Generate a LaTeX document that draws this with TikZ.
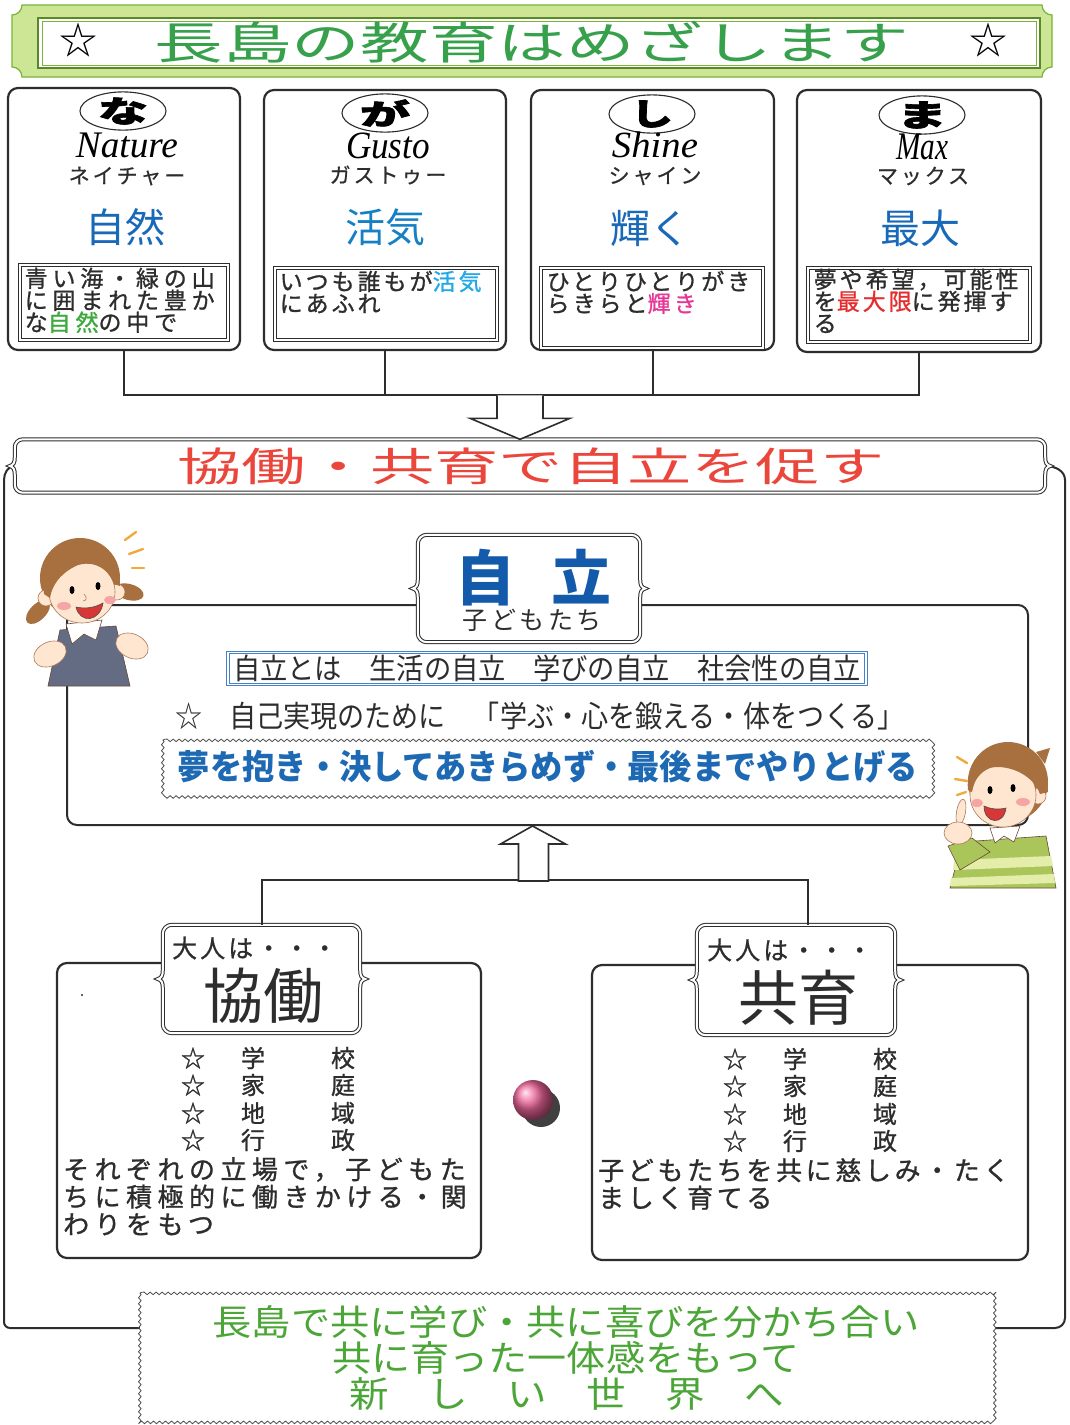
\documentclass[tikz,border=0pt]{standalone}
\usepackage{fontspec}
\usepackage{graphicx}
\usetikzlibrary{shapes.geometric,decorations.pathmorphing,calc,shadings}
\setmainfont{Noto Sans CJK JP}
\newfontfamily\latinit{Liberation Serif}
\newcommand\fsz[1]{\fontsize{#1}{#1}\selectfont}
\newcommand\fitbox[3]{\resizebox*{#1pt}{#2pt}{#3}}

\definecolor{titlegreen}{RGB}{55,160,75}
\definecolor{frameouter}{RGB}{205,230,150}
\definecolor{frameline}{RGB}{120,180,55}
\definecolor{kanjiblue}{RGB}{25,105,185}
\definecolor{skyblue}{RGB}{35,170,230}
\definecolor{shinepink}{RGB}{230,55,150}
\definecolor{maxred}{RGB}{230,45,45}
\definecolor{leafgreen}{RGB}{60,170,60}
\definecolor{bannerred}{RGB}{235,70,60}
\definecolor{deepblue}{RGB}{20,90,170}
\definecolor{defblue}{RGB}{70,130,200}
\definecolor{dreamblue}{RGB}{30,105,180}
\definecolor{worldgreen}{RGB}{75,165,55}
\definecolor{inkgray}{RGB}{45,45,45}
\definecolor{skin}{RGB}{255,230,208}
\definecolor{skinline}{RGB}{170,120,90}
\definecolor{hairbrown}{RGB}{168,112,62}
\definecolor{apron}{RGB}{100,108,132}
\definecolor{sweater}{RGB}{170,198,90}
\definecolor{stripe}{RGB}{228,238,170}
\definecolor{blush}{RGB}{245,165,165}
\definecolor{flash}{RGB}{240,170,60}
\definecolor{mouthred}{RGB}{215,55,55}
\definecolor{ballpink}{RGB}{235,75,135}

% rounded box whose left and right sides carry a small brace point
\newcommand\braceoutline[3][]{%
  \draw[#1] let \p1=(#2.north west), \p2=(#2.south east), \p3=(#2.west) in
    ({\x1+#3},\y1) -- ({\x2-#3},\y1) arc[start angle=90,end angle=0,radius=#3]
    -- ({\x2},{\y3+9pt}) .. controls ({\x2},{\y3+3pt}) and ({\x2+1.5pt},{\y3+1pt}) .. ({\x2+5pt},\y3)
    .. controls ({\x2+1.5pt},{\y3-1pt}) and ({\x2},{\y3-3pt}) .. ({\x2},{\y3-9pt})
    -- ({\x2},{\y2+#3}) arc[start angle=0,end angle=-90,radius=#3]
    -- ({\x1+#3},\y2) arc[start angle=270,end angle=180,radius=#3]
    -- ({\x1},{\y3-9pt}) .. controls ({\x1},{\y3-3pt}) and ({\x1-1.5pt},{\y3-1pt}) .. ({\x1-5pt},\y3)
    .. controls ({\x1-1.5pt},{\y3+1pt}) and ({\x1},{\y3+3pt}) .. ({\x1},{\y3+9pt})
    -- ({\x1},{\y1-#3}) arc[start angle=180,end angle=90,radius=#3] -- cycle;}

% white box with a wavy outline
\newcommand\wavyoutline[1]{%
  \fill[white] (#1.north west) rectangle (#1.south east);
  \draw[wavyline] (#1.north west) rectangle (#1.south east);}

\tikzset{
  panel/.style={draw=inkgray, line width=2.2pt, rounded corners=10pt, fill=white},
  link/.style={draw=inkgray, line width=2pt},
  dbl/.style={draw=inkgray, line width=1pt, double=white, double distance=2pt, fill=white},
  innerbox/.style={draw=inkgray, line width=1pt, double=white, double distance=2pt},
  wavyline/.style={draw=black!70, line width=0.8pt, decorate,
    decoration={snake, segment length=6pt, amplitude=1.3pt}},
  kana/.style={draw=inkgray, ellipse, line width=1.1pt, inner sep=0pt,
    minimum width=86pt, minimum height=33pt},
  kata/.style={inner sep=0pt, text=inkgray, font=\fsz{21}\addfontfeature{LetterSpace=14,FakeBold=0.6}},
  cardtext/.style={anchor=north west, inner sep=0pt, align=left, text=inkgray},
  item/.style={inner sep=0pt, text=inkgray, font=\fsz{24}\addfontfeature{FakeBold=1}},
  para/.style={anchor=north west, inner sep=0pt, align=left, text=inkgray},
  hollow/.style={draw=inkgray, line width=1.6pt, fill=white, line join=miter}
}

\begin{document}
\begin{tikzpicture}[x=1pt,y=-1pt]
\useasboundingbox (0,0) rectangle (1070,1425);
\fill[white] (0,0) rectangle (1070,1425);

% ---------- title plate ----------
\fill[frameouter, draw=frameline, line width=1.2pt]
  (22,5) -- (1042,5) arc[start angle=180,end angle=270,radius=10pt]
  -- (1052,67) arc[start angle=90,end angle=180,radius=10pt]
  -- (22,77) arc[start angle=0,end angle=90,radius=10pt]
  -- (12,15) arc[start angle=270,end angle=360,radius=10pt] -- cycle;
\draw[frameline!75!black, line width=1.3pt, fill=white] (38,18) rectangle (1040,68);
\draw[frameline, line width=0.6pt] (42,21) rectangle (1036,65);
\node[font=\fsz{38}] (starL) at (78,40) {☆};
\node[font=\fsz{38}] (starR) at (988,40) {☆};
\node[text=titlegreen] (title) at (532,42) {\fitbox{755}{42}{長島の教育はめざします}};

% ---------- four value cards ----------
\node[panel, minimum width=232pt, minimum height=262pt] (b1) at (124,219) {};
\node[panel, minimum width=242pt, minimum height=260pt] (b2) at (385,220) {};
\node[panel, minimum width=243pt, minimum height=260pt] (b3) at (652.5,220) {};
\node[panel, minimum width=244pt, minimum height=262pt] (b4) at (919,221) {};

\node[kana] (e1) at (123,111) {\fitbox{50}{27}{\bfseries\addfontfeature{FakeBold=2}な}};
\node[kana] (e2) at (385,113) {\fitbox{50}{27}{\bfseries\addfontfeature{FakeBold=2}が}};
\node[kana] (e3) at (652,114) {\fitbox{42}{27}{\bfseries\addfontfeature{FakeBold=2}し}};
\node[kana] (e4) at (922,115) {\fitbox{50}{27}{\bfseries\addfontfeature{FakeBold=2}ま}};

\node[inner sep=0pt] (w1) at (127,145) {\fitbox{102}{25}{\latinit\itshape Nature}};
\node[inner sep=0pt] (w2) at (388,146) {\fitbox{84}{26}{\latinit\itshape Gusto}};
\node[inner sep=0pt] (w3) at (655,145) {\fitbox{86}{26}{\latinit\itshape Shine}};
\node[inner sep=0pt] (w4) at (922,147) {\fitbox{52}{26}{\latinit\itshape Max}};

\node[kata] (k1) at (127,176) {ネイチャー};
\node[kata] (k2) at (388,175) {ガストゥー};
\node[kata] (k3) at (655,176) {シャイン};
\node[kata] (k4) at (923,176) {マックス};

\node[font=\fsz{40}, text=kanjiblue] (j1) at (125,227) {自然};
\node[font=\fsz{40}, text=kanjiblue!85!cyan] (j2) at (385,227) {活気};
\node[font=\fsz{40}, text=kanjiblue] (j3) at (650,228) {輝く};
\node[font=\fsz{40}, text=kanjiblue] (j4) at (920,228) {最大};

\node[innerbox, minimum width=208pt, minimum height=75pt] (t1) at (124,302.5) {};
\node[innerbox, minimum width=222pt, minimum height=72pt] (t2) at (386,304) {};
\node[innerbox, minimum width=222pt, minimum height=80pt] (t3) at (652,308) {};
\node[innerbox, minimum width=222pt, minimum height=74pt] (t4) at (919,305) {};

\node[cardtext, font=\fontsize{23}{22}\selectfont\addfontfeature{LetterSpace=21,FakeBold=1}] (p1) at ($(t1.north west)+(5,3)$)
  {青い海・緑の山\\に囲まれた豊か\\な\textcolor{leafgreen}{自然}の中で};
\node[cardtext, font=\fontsize{23}{22}\selectfont\addfontfeature{LetterSpace=13,FakeBold=1}] (p2) at ($(t2.north west)+(5,3)$)
  {いつも誰もが\textcolor{skyblue}{活気}\\にあふれ};
\node[cardtext, font=\fontsize{23}{22}\selectfont\addfontfeature{LetterSpace=13,FakeBold=1}] (p3) at ($(t3.north west)+(6,3)$)
  {ひとりひとりがき\\らきらと\textcolor{shinepink}{輝き}};
\node[cardtext, font=\fontsize{23}{22}\selectfont\addfontfeature{LetterSpace=13,FakeBold=1}] (p4) at ($(t4.north west)+(6,1)$)
  {夢や希望，可能性\\を\textcolor{maxred}{最大限}に発揮す\\る};

% bus joining the four cards
\coordinate (bus) at (0,395);
\draw[link] (b1.south) -- (b1.south |- bus) -- (b4.south |- bus) -- (b4.south);
\draw[link] (b2.south) -- (b2.south |- bus);
\draw[link] (b3.south) -- (b3.south |- bus);

% ---------- policy banner and outer rails ----------
\node[minimum width=1030pt, minimum height=53pt, inner sep=0pt] (banner) at (530,466) {};
\node[minimum width=855pt, minimum height=129pt, inner sep=0pt] (final) at (567.5,1357.5) {};
\coordinate (leftrail) at (4,0);
\coordinate (rightrail) at (1065,0);
\coordinate (lowrail) at (0,1328);

\draw[link] (banner.west) to[out=180,in=90] ($(leftrail |- banner.west)+(0,14)$);
\draw[link, rounded corners=6pt] ($(leftrail |- banner.west)+(0,14)$) -- (leftrail |- lowrail) -- (final.west |- lowrail);
\draw[link] (banner.east) to[out=0,in=90] ($(rightrail |- banner.east)+(0,14)$);
\draw[link, rounded corners=10pt] ($(rightrail |- banner.east)+(0,14)$) -- (rightrail |- lowrail) -- (final.east |- lowrail);
\wavyoutline{final}

\braceoutline[dbl]{banner}{8pt}
\node[text=bannerred] (bannertext) at (531,466) {\fitbox{707}{37}{協働・共育で自立を促す}};

% hollow arrow from the bus down to the banner
\coordinate (tipD) at ($(banner.north)+(-10,0)$);
\draw[hollow] ($(tipD)+(-23,-44)$) -- ++(0,23) -- ++(-27,0) -- (tipD) -- ++(50,-21) -- ++(-27,0) -- ++(0,-23);

% ---------- children: independence ----------
\node[panel, line width=2pt, minimum width=961pt, minimum height=220pt] (kids) at (547.5,715) {};
\node[minimum width=222pt, minimum height=107pt, inner sep=0pt] (kidlabel) at (529,588.5) {};
\braceoutline[dbl]{kidlabel}{9pt}
\node[text=deepblue, font=\fsz{60}\bfseries, inner sep=0pt] (jiritsu) at (533,578) {自\hspace{36pt}立};
\node[text=inkgray, font=\fsz{25}\addfontfeature{LetterSpace=14}, inner sep=0pt] (kodomo) at (532,620) {子どもたち};

\node[draw=defblue, line width=1pt, double=white, double distance=1.6pt,
  minimum width=638pt, minimum height=32pt, inner sep=0pt] (define) at (547,668.5) {};
\node[text=inkgray, inner sep=0pt] (definetext) at (547,668.5)
  {\fitbox{628}{27}{自立とは　生活の自立　学びの自立　社会性の自立}};
\node[text=inkgray, inner sep=0pt] (aim) at (540,716)
  {\fitbox{730}{28}{☆　自己実現のために　「学ぶ・心を鍛える・体をつくる」}};
\node[minimum width=769pt, minimum height=53pt, inner sep=0pt] (dream) at (547.5,766.5) {};
\wavyoutline{dream}
\node[text=dreamblue, inner sep=0pt] (dreamtext) at (548,767)
  {\fitbox{740}{33}{\bfseries 夢を抱き・決してあきらめず・最後までやりとげる}};

% ---------- adults: cooperation and shared upbringing ----------
\node[panel, minimum width=424pt, minimum height=295pt] (coop) at (269,1110.5) {};
\node[panel, minimum width=436pt, minimum height=295pt] (raise) at (810,1112.5) {};
\node[minimum width=197pt, minimum height=108pt, inner sep=0pt] (cooplab) at (261.5,979) {};
\node[minimum width=198pt, minimum height=110pt, inner sep=0pt] (raiselab) at (796,980) {};
\braceoutline[dbl]{cooplab}{9pt}
\braceoutline[dbl]{raiselab}{9pt}

\coordinate (bus2) at (0,880);
\coordinate (raisetop) at ($(raiselab.north)+(12,0)$);
\draw[link] (cooplab.north) -- (cooplab.north |- bus2) -- (raisetop |- bus2) -- (raisetop);

% hollow arrow up into the children's box
\coordinate (tipU) at ($(kids.south)+(-15,0)$);
\draw[hollow] (tipU) -- ++(33,18) -- ++(-17,0) -- ++(0,37) -- ++(-30,0) -- ++(0,-37) -- ++(-18,0) -- cycle;

\node[anchor=west, inner sep=0pt, text=inkgray, font=\fsz{25}\addfontfeature{LetterSpace=12,FakeBold=0.6}] (adultL) at (172,948) {大人は・・・};
\node[text=inkgray, font=\fsz{60}, inner sep=0pt] (coopword) at (263,996) {協働};
\node[anchor=west, inner sep=0pt, text=inkgray, font=\fsz{25}\addfontfeature{LetterSpace=12,FakeBold=0.6}] (adultR) at (707,950) {大人は・・・};
\node[text=inkgray, font=\fsz{60}, inner sep=0pt] (raiseword) at (798,998) {共育};

\foreach \yy/\ca/\cb [count=\i] in {1058/学/校,1085/家/庭,1113/地/域,1140/行/政}{
  \node[item] (lstar\i) at (193,\yy) {☆};
  \node[item] (lfirst\i) at (253,\yy) {\ca};
  \node[item] (lsecond\i) at (343,\yy) {\cb};
  \node[item] (rstar\i) at (735,\yy+1) {☆};
  \node[item] (rfirst\i) at (795,\yy+1) {\ca};
  \node[item] (rsecond\i) at (885,\yy+1) {\cb};
}

\node[para, font=\fontsize{26}{27.5}\selectfont\addfontfeature{LetterSpace=21,FakeBold=1}] (coopnote) at (63,1157)
  {それぞれの立場で，子どもた\\ちに積極的に働きかける・関\\わりをもつ};
\node[para, font=\fontsize{26}{27.5}\selectfont\addfontfeature{LetterSpace=14,FakeBold=1}] (raisenote) at (598,1158)
  {子どもたちを共に慈しみ・たく\\ましく育てる};
\fill[inkgray] (82,995) circle[radius=1.2pt];

% pink marble between the two adult boxes
\fill[black!75] (541,1108) circle[radius=19pt];
\shade[ball color=ballpink!85!white] (533,1100) circle[radius=20pt];

% ---------- closing message ----------
\node[text=worldgreen, inner sep=0pt] (msg1) at (566,1322) {\fitbox{707}{33}{長島で共に学び・共に喜びを分かち合い}};
\node[text=worldgreen, inner sep=0pt] (msg2) at (566,1358) {\fitbox{467}{33}{共に育った一体感をもって}};
\node[text=worldgreen, inner sep=0pt] (msg3) at (567,1394) {\fitbox{435}{33}{新　し　い　世　界　へ}};

% ---------- girl ----------
\begin{scope}[line width=0.6pt]
  \fill[hairbrown] (38,612) ellipse[x radius=15pt, y radius=8pt, rotate=45];
  \fill[hairbrown] (129,592) ellipse[x radius=15pt, y radius=8pt, rotate=-15];
  \fill[hairbrown] (80,578) circle[radius=40pt];
  \filldraw[fill=apron, draw=skinline!60!black] (60,630) -- (116,626) -- (130,686) -- (48,686) -- cycle;
  \filldraw[fill=white, draw=skinline!60!black] (66,624) -- (102,620) -- (96,640) -- (84,634) -- (72,644) -- cycle;
  \filldraw[fill=skin, draw=skinline] (46,598) circle[radius=8pt];
  \filldraw[fill=skin, draw=skinline] (117,592) circle[radius=8pt];
  \filldraw[fill=skin, draw=skinline] (82,592) ellipse[x radius=33pt, y radius=31pt];
  \fill[hairbrown] (44,594) .. controls (38,538) and (122,528) .. (120,586)
    -- (114,584) .. controls (106,562) and (84,560) .. (72,568)
    .. controls (60,575) and (52,585) .. (50,598) -- cycle;
  \fill[blush] (64,606) ellipse[x radius=7pt, y radius=4pt];
  \fill[blush] (110,600) ellipse[x radius=6pt, y radius=4pt];
  \fill[black] (72,590) ellipse[x radius=2.5pt, y radius=4pt];
  \fill[black] (98,586) ellipse[x radius=2.5pt, y radius=4pt];
  \draw[skinline] (84,594) .. controls (88,598) and (86,601) .. (83,601);
  \filldraw[fill=mouthred, draw=black!70] (76,607) .. controls (80,624) and (100,622) .. (103,603)
    .. controls (94,608) and (85,609) .. (76,607) -- cycle;
  \filldraw[fill=skin, draw=skinline] (50,654) ellipse[x radius=17pt, y radius=12pt, rotate=25];
  \filldraw[fill=skin, draw=skinline] (132,646) ellipse[x radius=17pt, y radius=12pt, rotate=-25];
  \draw[flash, line width=2.4pt, line cap=round] (125,540) -- (136,532);
  \draw[flash, line width=2.4pt, line cap=round] (129,554) -- (143,549);
  \draw[flash, line width=2.4pt, line cap=round] (132,568) -- (144,568);
\end{scope}

% ---------- boy ----------
\begin{scope}[line width=0.6pt]
  \filldraw[fill=sweater, draw=skinline!60!black] (962,842) -- (1046,836) -- (1056,888) -- (950,888) -- cycle;
  \fill[stripe] (954,860) -- (1051,856) -- (1053,866) -- (953,870) -- cycle;
  \fill[stripe] (951,878) -- (1054,874) -- (1055,883) -- (950,886) -- cycle;
  \filldraw[fill=white, draw=skinline!60!black] (990,828) -- (1020,826) -- (1014,842) -- (1004,836) -- (995,843) -- cycle;
  \fill[hairbrown] (1008,782) circle[radius=40pt];
  \fill[hairbrown] (1036,752) -- (1050,748) -- (1045,764) -- cycle;
  \filldraw[fill=skin, draw=skinline] (1038,796) circle[radius=8pt];
  \filldraw[fill=skin, draw=skinline] (1003,795) ellipse[x radius=33pt, y radius=32pt];
  \fill[hairbrown] (968,790) .. controls (962,735) and (1046,722) .. (1048,792)
    -- (1040,794) .. controls (1032,772) and (1004,764) .. (990,768)
    .. controls (980,772) and (974,780) .. (972,792) -- cycle;
  \fill[blush] (977,803) ellipse[x radius=6pt, y radius=4pt];
  \fill[blush] (1023,802) ellipse[x radius=7pt, y radius=4pt];
  \fill[black] (990,790) ellipse[x radius=2.5pt, y radius=4pt];
  \fill[black] (1013,788) ellipse[x radius=2.5pt, y radius=4pt];
  \filldraw[fill=mouthred, draw=black!70] (984,806) .. controls (984,824) and (1004,826) .. (1006,808)
    .. controls (998,810) and (990,809) .. (984,806) -- cycle;
  \filldraw[fill=sweater, draw=skinline!60!black] (948,846) -- (972,838) -- (990,852) -- (960,870) -- cycle;
  \filldraw[fill=skin, draw=skinline] (961,812) ellipse[x radius=4.5pt, y radius=13pt, rotate=-10];
  \filldraw[fill=skin, draw=skinline] (958,833) ellipse[x radius=14pt, y radius=11pt];
  \draw[flash, line width=2.4pt, line cap=round] (957,757) -- (967,763);
  \draw[flash, line width=2.4pt, line cap=round] (955,779) -- (967,781);
  \draw[flash, line width=2.4pt, line cap=round] (957,795) -- (966,792);
\end{scope}
\end{tikzpicture}
\end{document}
